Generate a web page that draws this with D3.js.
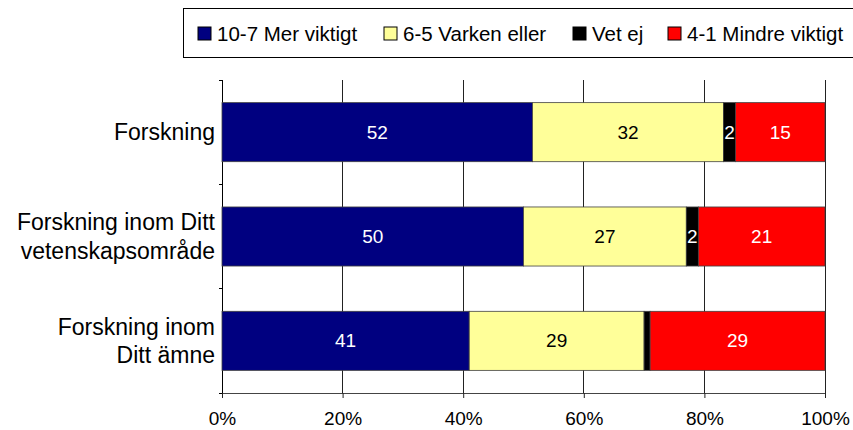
<!DOCTYPE html>
<html>
<head>
<meta charset="utf-8">
<script src="https://cdn.jsdelivr.net/npm/d3@7"></script>
<style>
  html, body { margin: 0; padding: 0; background: #fff; }
  svg { display: block; font-family: "Liberation Sans", Arial, sans-serif; }
</style>
</head>
<body>
<svg id="chart" width="853" height="430"></svg>
<script>
// ---- data ----
const categories = [
  ["Forskning"],
  ["Forskning inom Ditt", "vetenskapsområde"],
  ["Forskning inom", "Ditt ämne"]
];
const seriesNames = ["10-7 Mer viktigt", "6-5 Varken eller", "Vet ej", "4-1 Mindre viktigt"];
const merViktigt = [52, 50, 41];
const varkenEller = [32, 27, 29];
const vetEj = [2, 2, 1];
const mindreViktigt = [15, 21, 29];
const seriesColors = ["#000080", "#FFFF99", "#000000", "#FF0000"];
const labelColors = ["#ffffff", "#000000", "#ffffff", "#ffffff"];
const tickValues = [0, 0.2, 0.4, 0.6, 0.8, 1.0];

const seriesValues = [merViktigt, varkenEller, vetEj, mindreViktigt];

// ---- layout ----
const svg = d3.select("#chart");
const plot = { left: 222, right: 825, top: 80, bottom: 393 };

const x = d3.scaleLinear().domain([0, 1]).range([plot.left, plot.right]);
const y = d3.scaleBand().domain(d3.range(categories.length))
  .range([plot.top, plot.bottom]).paddingInner(0.434).paddingOuter(0.217);
const yOuter = d3.scaleBand().domain(d3.range(categories.length))
  .range([plot.top, plot.bottom]);

// gridlines
svg.append("g").selectAll("line")
  .data(tickValues.slice(1))
  .join("line")
  .attr("x1", d => x(d)).attr("x2", d => x(d))
  .attr("y1", plot.top).attr("y2", plot.bottom)
  .attr("stroke", "#222").attr("stroke-width", 1)
  .attr("shape-rendering", "crispEdges");

// bottom axis
const xAxis = d3.axisBottom(x).tickValues(tickValues)
  .tickFormat(d3.format(".0%")).tickSizeInner(5).tickSizeOuter(0).tickPadding(14);
const gx = svg.append("g").attr("transform", `translate(0,${plot.bottom})`).call(xAxis);
gx.select(".domain").attr("stroke", "#444").attr("d", `M${plot.left - 3},0.5H${plot.right}`);
gx.selectAll(".tick line").attr("stroke", "#222");
gx.selectAll(".tick text")
  .attr("font-size", "19px").attr("fill", "#000")
  .attr("font-family", "'Liberation Sans', Arial, sans-serif");

// left axis line + boundary ticks
svg.append("line")
  .attr("x1", plot.left).attr("x2", plot.left)
  .attr("y1", plot.top).attr("y2", plot.bottom)
  .attr("stroke", "#000").attr("shape-rendering", "crispEdges");
const boundaries = d3.range(categories.length + 1).map(i =>
  i < categories.length ? yOuter(i) : plot.bottom);
svg.append("g").selectAll("line")
  .data(boundaries)
  .join("line")
  .attr("x1", plot.left - 3).attr("x2", plot.left)
  .attr("y1", d => d).attr("y2", d => d)
  .attr("stroke", "#000").attr("shape-rendering", "crispEdges");

// stacked, normalised segments
const rows = categories.map((c, i) => {
  const vals = seriesValues.map(s => s[i]);
  const total = d3.sum(vals);
  let cum = 0;
  return vals.map((v, j) => {
    const seg = { row: i, series: j, value: v, x0: cum / total, x1: (cum + v) / total };
    cum += v;
    return seg;
  });
});
const segs = rows.flat();

svg.append("g").selectAll("rect")
  .data(segs)
  .join("rect")
  .attr("x", d => x(d.x0))
  .attr("width", d => x(d.x1) - x(d.x0))
  .attr("y", d => y(d.row))
  .attr("height", y.bandwidth())
  .attr("fill", d => seriesColors[d.series])
  .attr("stroke", "#404040").attr("stroke-width", 0.8);

svg.append("g").selectAll("text")
  .data(segs.filter(d => d.value >= 2))
  .join("text")
  .attr("x", d => (x(d.x0) + x(d.x1)) / 2)
  .attr("y", d => y(d.row) + y.bandwidth() / 2)
  .attr("dy", "0.35em")
  .attr("text-anchor", "middle")
  .attr("font-size", "19px")
  .attr("fill", d => labelColors[d.series])
  .text(d => d.value);

// category labels
const lineH = 28.5;
const catG = svg.append("g");
categories.forEach((lines, i) => {
  const cy = yOuter(i) + yOuter.bandwidth() / 2;
  const t = catG.append("text")
    .attr("x", 215)
    .attr("text-anchor", "end")
    .attr("font-size", "23px")
    .attr("fill", "#000");
  lines.forEach((ln, k) => {
    t.append("tspan")
      .attr("x", 215)
      .attr("y", cy + (k - (lines.length - 1) / 2) * lineH)
      .attr("dy", "0.35em")
      .text(ln);
  });
});

// legend
svg.append("rect")
  .attr("x", 183.5).attr("y", 8.5).attr("width", 680).attr("height", 49)
  .attr("fill", "#fff").attr("stroke", "#000").attr("stroke-width", 1);
const legendX = [198, 384, 573, 668];
const lg = svg.append("g").selectAll("g")
  .data(seriesNames)
  .join("g")
  .attr("transform", (d, i) => `translate(${legendX[i]},27)`);
lg.append("rect")
  .attr("width", 13).attr("height", 13)
  .attr("fill", (d, i) => seriesColors[i])
  .attr("stroke", "#000").attr("stroke-width", 1);
lg.append("text")
  .attr("x", 19).attr("y", 14)
  .attr("font-size", "20.5px").attr("fill", "#000")
  .text(d => d);
</script>
</body>
</html>
